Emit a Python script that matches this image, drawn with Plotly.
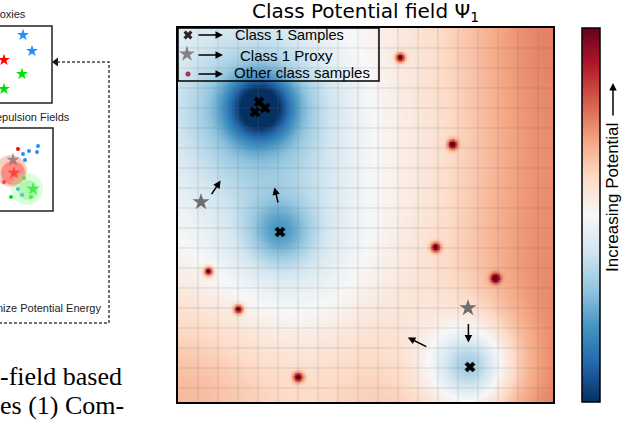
import numpy as np
import plotly.graph_objects as go

W, H = 622, 426

# ---------------- main panel data (grid units, y grows downward) ----------------
class1_x = [4.05, 4.35, 3.85, 5.10, 14.60]
class1_y = [3.70, 4.00, 4.20, 10.20, 16.95]
class1_core = [0.28, 0.28, 0.28, 0.35, 0.30]   # depth of the narrow well
class1_wide = [0.15, 0.15, 0.15, 0.22, 0.45]   # depth of the wide well
class1_reach = [3.0, 3.0, 3.0, 3.0, 2.1]       # width of the wide well (cells)

proxy_x = [1.15, 14.50]
proxy_y = [8.70, 14.00]

other_x = [11.10, 13.70, 12.85, 1.50, 15.85, 3.00, 6.00]
other_y = [1.45, 5.80, 10.95, 12.15, 12.50, 14.05, 17.45]

move_x0 = [1.63, 5.02, 14.52, 12.49]
move_y0 = [8.38, 8.80, 14.73, 15.97]
move_x1 = [2.13, 4.82, 14.52, 11.49]
move_y1 = [7.63, 7.97, 15.72, 15.47]

# background potential read on a 4x4 lattice (rows top->bottom, cols left->right)
bg_levels = [
    [-0.08, 0.00, 0.15, 0.60],
    [-0.03, 0.05, 0.10, 0.55],
    [0.13, 0.00, 0.14, 0.56],
    [0.42, 0.20, 0.40, 0.60],
]

# ---------------- left (cropped) diagram data, pixel units ----------------
panel1_x = [23, 32, 4, 22, 4]
panel1_y = [35, 51, 60, 74, 89]
panel1_c = ["#1e90ff", "#1e90ff", "#ff0000", "#00e000", "#00e000"]

panel2_star_x = [13, 14, 33]
panel2_star_y = [160, 173, 189]
panel2_star_c = ["#5a78a8", "#ff0000", "#00dd00"]

panel2_dot_x = [18, 38, 29, 23, 37, 25, 4, 24, 18, 22, 31, 11]
panel2_dot_y = [149, 146, 151, 154, 152, 160, 182, 178, 189, 195, 197, 197]
panel2_dot_c = ["#ff0000", "#1e90ff", "#1e90ff", "#1e90ff", "#1e90ff", "#1e90ff",
                "#ff0000", "#00dd00", "#1e90ff", "#1e90ff", "#00dd00", "#00dd00"]

# ---------------- geometry ----------------
PX0, PX1, PY0, PY1 = 178, 553, 28, 402
XMAX, YMAX = (PX1 - PX0) / 20.0, (PY1 - PY0) / 20.0

# ---------------- potential field ----------------
nx, ny = 250, 250
gx = np.linspace(0, XMAX, nx)
gy = np.linspace(0, YMAX, ny)
X, Y = np.meshgrid(gx, gy)

lv = np.array(bg_levels)
cu = np.linspace(0, XMAX, lv.shape[1])
cv = np.linspace(0, YMAX, lv.shape[0])
rows = np.array([np.interp(gx, cu, r) for r in lv])
bg = np.array([np.interp(gy, cv, rows[:, j]) for j in range(nx)]).T


def blur(a, s):
    k = np.exp(-0.5 * (np.arange(-3 * s, 3 * s + 1) / s) ** 2)
    k /= k.sum()
    p = len(k) // 2
    a = np.pad(a, ((0, 0), (p, p)), mode="reflect")
    a = np.array([np.convolve(r, k, mode="valid") for r in a])
    a = np.pad(a, ((p, p), (0, 0)), mode="reflect")
    a = np.array([np.convolve(c, k, mode="valid") for c in a.T]).T
    return a


field = blur(bg, 20)
for cx, cy, a1, a2, s2 in zip(class1_x, class1_y, class1_core, class1_wide, class1_reach):
    r2 = (X - cx) ** 2 + (Y - cy) ** 2
    field -= a1 * np.exp(-r2 / (2 * 1.1 ** 2)) + a2 * np.exp(-r2 / (2 * s2 ** 2))
for cx, cy in zip(other_x, other_y):
    r2 = (X - cx) ** 2 + (Y - cy) ** 2
    field += 0.9 * np.exp(-r2 / (2 * 0.17 ** 2))
field = np.clip(field, -1, 1)

fig = go.Figure()

fig.add_trace(go.Heatmap(
    x=gx, y=gy, z=np.round(field, 3), colorscale="RdBu_r", zmin=-1, zmax=1,
    zsmooth="best", hoverinfo="skip",
    colorbar=dict(x=582 / W, xanchor="left", xpad=0, ypad=0,
                  y=1 - (PY0 + PY1) / 2 / H, yanchor="middle",
                  len=(PY1 - PY0) / H, lenmode="fraction",
                  thickness=18, thicknessmode="pixels",
                  outlinecolor="black", outlinewidth=1.5,
                  showticklabels=False, ticks=""),
))

# grid lines drawn over the field
gl_x, gl_y = [], []
for k in range(1, int(XMAX) + 1):
    gl_x += [k, k, None]
    gl_y += [0, YMAX, None]
for k in range(1, int(YMAX) + 1):
    gl_x += [0, XMAX, None]
    gl_y += [k, k, None]
fig.add_trace(go.Scatter(x=gl_x, y=gl_y, mode="lines",
                         line=dict(color="rgba(110,110,110,0.11)", width=2),
                         hoverinfo="skip", showlegend=False))

fig.add_trace(go.Scatter(x=other_x, y=other_y, mode="markers",
                         marker=dict(color="#5a0018", size=3.5), showlegend=False))
fig.add_trace(go.Scatter(x=class1_x, y=class1_y, mode="markers",
                         marker=dict(symbol="x", color="black", size=9,
                                     line=dict(width=0.5, color="black")),
                         showlegend=False))
fig.add_trace(go.Scatter(x=proxy_x, y=proxy_y, mode="markers",
                         marker=dict(symbol="star", color="#6e6e6e", size=13),
                         showlegend=False))

annotations = []
for x0, y0, x1, y1 in zip(move_x0, move_y0, move_x1, move_y1):
    annotations.append(dict(x=x1, y=y1, ax=x0, ay=y0, xref="x", yref="y",
                            axref="x", ayref="y", text="", showarrow=True,
                            arrowhead=2, arrowsize=1, arrowwidth=1.5,
                            arrowcolor="black", standoff=0, startstandoff=0))

# ---------------- overlay (pixel) layer: legend box, labels, left diagram ----------------
fig.add_trace(go.Scatter(x=[188], y=[35], mode="markers", xaxis="x2", yaxis="y2",
                         marker=dict(symbol="x", color="black", size=8), showlegend=False))
fig.add_trace(go.Scatter(x=[187], y=[54], mode="markers", xaxis="x2", yaxis="y2",
                         marker=dict(symbol="star", color="#6e6e6e", size=12), showlegend=False))
fig.add_trace(go.Scatter(x=[188], y=[74], mode="markers", xaxis="x2", yaxis="y2",
                         marker=dict(color="#a0102a", size=5), showlegend=False))

fig.add_trace(go.Scatter(x=panel1_x, y=panel1_y, mode="markers", xaxis="x2", yaxis="y2",
                         marker=dict(symbol="star", color=panel1_c, size=9), showlegend=False))

shapes = [
    dict(type="rect", xref="x2", yref="y2", x0=PX0, y0=PY0, x1=379, y1=81,
         line=dict(color="black", width=1.5), fillcolor="rgba(255,255,255,0.15)"),
    dict(type="rect", xref="x2", yref="y2", x0=-10, y0=26, x1=52, y1=103,
         line=dict(color="#222", width=1.5)),
    dict(type="rect", xref="x2", yref="y2", x0=-10, y0=128, x1=53, y1=211,
         line=dict(color="#222", width=1.5)),
    dict(type="circle", xref="x2", yref="y2", x0=-5, y0=155, x1=27, y1=187,
         line=dict(width=0), fillcolor="rgba(240,150,120,0.45)"),
    dict(type="circle", xref="x2", yref="y2", x0=1, y0=161, x1=25, y1=185,
         line=dict(width=0), fillcolor="rgba(255,70,70,0.5)"),
    dict(type="circle", xref="x2", yref="y2", x0=11, y0=173, x1=43, y1=205,
         line=dict(width=0), fillcolor="rgba(150,255,150,0.35)"),
    dict(type="circle", xref="x2", yref="y2", x0=18, y0=180, x1=38, y1=200,
         line=dict(width=0), fillcolor="rgba(110,240,110,0.4)"),
    dict(type="path", xref="x2", yref="y2",
         path="M 57 62 L 109 62 L 109 323 L -5 323",
         line=dict(color="#444", width=1.5, dash="3px,2px")),
]

fig.add_trace(go.Scatter(x=panel2_star_x, y=panel2_star_y, mode="markers", xaxis="x2", yaxis="y2",
                         marker=dict(symbol="star", color=panel2_star_c, size=10), showlegend=False))
fig.add_trace(go.Scatter(x=panel2_dot_x, y=panel2_dot_y, mode="markers", xaxis="x2", yaxis="y2",
                         marker=dict(color=panel2_dot_c, size=4), showlegend=False))
fig.add_trace(go.Scatter(x=[56], y=[62], mode="markers", xaxis="x2", yaxis="y2",
                         marker=dict(symbol="triangle-left", color="#111", size=8), showlegend=False))

sans = "Liberation Sans, Arial, sans-serif"
for y0, y_txt, xt, size, label in [(35, 35, 233, 14.5, "Class 1 Samples"),
                                  (55, 55, 238, 15, "Class 1 Proxy"),
                                  (74, 72, 232, 15, "Other class samples")]:
    annotations.append(dict(x=223, y=y0, ax=197, ay=y0, xref="x2", yref="y2",
                            axref="x2", ayref="y2", text="", showarrow=True,
                            arrowhead=2, arrowsize=1, arrowwidth=1.5, arrowcolor="black",
                            standoff=0, startstandoff=0))
    annotations.append(dict(x=xt, y=y_txt, xref="x2", yref="y2", text=label, showarrow=False,
                            xanchor="left", yanchor="middle",
                            font=dict(family=sans, size=size, color="black")))

# colour-bar label and arrow
annotations.append(dict(x=613, y=83, ax=613, ay=117, xref="x2", yref="y2",
                        axref="x2", ayref="y2", text="", showarrow=True,
                        arrowhead=2, arrowsize=1, arrowwidth=1.5, arrowcolor="black",
                        standoff=0, startstandoff=0))
annotations.append(dict(x=612, y=198, xref="x2", yref="y2", text="Increasing Potential",
                        textangle=-90, showarrow=False, xanchor="center", yanchor="middle",
                        font=dict(family=sans, size=17, color="black")))

# title
annotations.append(dict(x=(PX0 + PX1) / 2, y=12, xref="x2", yref="y2",
                        text="Class Potential field Ψ<sub>1</sub>", showarrow=False,
                        xanchor="center", yanchor="middle",
                        font=dict(family="DejaVu Sans", size=20, color="black")))

# left diagram texts
for x, y, label in [(28, 14, "roxies"), (72, 117, "epulsion Fields"),
                    (103, 308, "nize Potential Energy")]:
    annotations.append(dict(x=x, y=y, xref="x2", yref="y2", text=label, showarrow=False,
                            xanchor="right", yanchor="middle",
                            font=dict(family=sans, size=11, color="#222")))
serif = "Liberation Serif, Times New Roman, serif"
for x, y, label in [(124, 376, "-field based"), (126, 405, "es (1) Com-")]:
    annotations.append(dict(x=x, y=y, xref="x2", yref="y2", text=label, showarrow=False,
                            xanchor="right", yanchor="middle",
                            font=dict(family=serif, size=26, color="black")))

axis_common = dict(showgrid=False, zeroline=False, showticklabels=False, ticks="",
                   showline=True, mirror=True, linecolor="black", linewidth=2)
fig.update_layout(
    width=W, height=H, margin=dict(l=0, r=0, t=0, b=0),
    paper_bgcolor="white", plot_bgcolor="rgba(0,0,0,0)",
    showlegend=False,
    xaxis=dict(domain=[PX0 / W, PX1 / W], range=[0, XMAX], **axis_common),
    yaxis=dict(domain=[1 - PY1 / H, 1 - PY0 / H], range=[YMAX, 0], **axis_common),
    xaxis2=dict(domain=[0, 1], range=[0, W], visible=False, anchor="y2", fixedrange=True),
    yaxis2=dict(domain=[0, 1], range=[H, 0], visible=False, anchor="x2", fixedrange=True),
    shapes=shapes, annotations=annotations,
)

fig.write_html("out.html", config={"displayModeBar": False},
               post_script="document.body.style.margin='0';document.body.style.overflow='hidden';")
